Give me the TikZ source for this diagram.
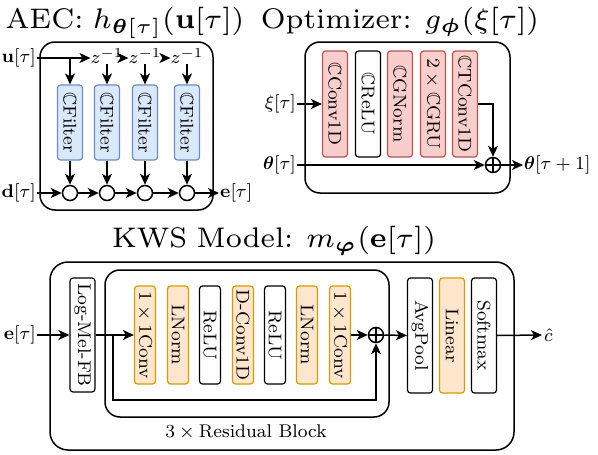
\RequirePackage{fix-cm}
\documentclass[tikz,border=0pt]{standalone}
\usepackage{graphicx}
\usepackage{amsmath,amssymb,bm}
\usetikzlibrary{arrows.meta,calc}
\definecolor{bfill}{HTML}{DAE8FC}\definecolor{bdraw}{HTML}{6C8EBF}
\definecolor{rfill}{HTML}{F8CECC}\definecolor{rdraw}{HTML}{B85450}
\definecolor{ofill}{HTML}{FFE6CC}\definecolor{odraw}{HTML}{D79B00}
\newcommand{\bt}[1]{\scalebox{2.3}{\fontsize{8}{9.6}\selectfont #1}}
\newcommand{\ttlx}[1]{\scalebox{4.05}{\fontsize{7}{8.4}\selectfont\spaceskip=2.3pt #1}}
\tikzset{
  txt/.style={inner sep=1pt},
  ttl/.style={inner sep=0pt, anchor=base},
  blk/.style={txt, draw, fill=white, rounded corners=3pt, rotate=-90, inner sep=1pt, line width=1.2pt},
  blu/.style={blk, draw=bdraw, fill=bfill},
  red/.style={blk, draw=rdraw, fill=rfill},
  org/.style={blk, draw=odraw, fill=ofill},
  bigbox/.style={draw, line width=1.5pt, rounded corners=15pt},
  ar/.style={-{Stealth[length=11pt,width=10pt,inset=3pt]}, line width=1.5pt},
  circ/.style={draw, circle, minimum size=15pt, inner sep=0pt, line width=1.5pt},
  oplus/.style={circ, path picture={\draw[line width=1.5pt] (path picture bounding box.north) -- (path picture bounding box.south) (path picture bounding box.west) -- (path picture bounding box.east);}}
}
\begin{document}
\begin{tikzpicture}[x=1pt,y=-1pt]
\useasboundingbox (0,0) rectangle (598,455);
% ---------------- AEC
\node[ttl] (taec) at (125,28) {\ttlx{AEC: $h_{\bm{\theta}[\tau]}(\mathbf{u}[\tau])$}};
\draw[bigbox] (40,42) rectangle (213,210);
\node[txt, anchor=east] (u) at (37,58) {\bt{$\mathbf{u}[\tau]$}};
\node[txt, anchor=east] (d) at (37,193) {\bt{$\mathbf{d}[\tau]$}};
\foreach \i/\x in {1/70,2/107,3/145,4/187}{
  \node[blu, minimum width=75pt, minimum height=25pt] (f\i) at (\x,122.5) {\bt{$\mathbb{C}$Filter}};
  \node[circ] (c\i) at (\x,193) {};
  \draw[ar] (f\i.east) -- (c\i.north);
}
\foreach \i/\x in {2/107,3/145,4/187}{
  \node[txt, inner sep=0pt] (z\i) at (\x,56) {\bt{$z^{-1}$}};
  \draw[ar] (z\i.south) -- (f\i.west);
}
\coordinate (b1) at (u.east -| f1.west);
\draw[ar] (u.east) -- (z2.west |- u.east);
\draw[ar] (z2.east |- u.east) -- (z3.west |- u.east);
\draw[ar] (z3.east |- u.east) -- (z4.west |- u.east);
\draw[ar] (b1) -- (f1.west);
\node[txt, anchor=west] (e) at (219,193) {\bt{$\mathbf{e}[\tau]$}};
\draw[ar] (d.east) -- (c1.west);
\draw[ar] (c1.east) -- (c2.west);
\draw[ar] (c2.east) -- (c3.west);
\draw[ar] (c3.east) -- (c4.west);
\draw[ar] (c4.east) -- (e.west);
% ---------------- Optimizer
\node[ttl] (topt) at (400,28) {\ttlx{Optimizer: $g_{\bm{\phi}}(\xi[\tau])$}};
\draw[bigbox] (305,42) rectangle (510,193);
\node[red, minimum width=106pt, minimum height=25pt] (o1) at (335,104) {\bt{$\mathbb{C}$Conv1D}};
\node[blk, minimum width=106pt, minimum height=25pt] (o2) at (368,104) {\bt{$\mathbb{C}$ReLU}};
\node[red, minimum width=106pt, minimum height=25pt] (o3) at (400,104) {\bt{$\mathbb{C}$GNorm}};
\node[red, minimum width=106pt, minimum height=25pt] (o4) at (433,104) {\bt{$2\times\mathbb{C}$GRU}};
\node[red, minimum width=106pt, minimum height=25pt] (o5) at (465,104) {\bt{$\mathbb{C}$TConv1D}};
\node[txt, anchor=east] (xi) at (297,104) {\bt{$\xi[\tau]$}};
\node[txt, anchor=east] (th) at (297,165) {\bt{$\bm{\theta}[\tau]$}};
\node[oplus] (p1) at (493,165) {};
\node[txt, anchor=west] (thn) at (523,165) {\bt{$\bm{\theta}[\tau+1]$}};
\draw[ar] (xi.east) -- (o1.south);
\draw[ar] (th.east) -- (p1.west);
\draw[ar] (o5.north) -| (p1.north);
\draw[ar] (p1.east) -- (thn.west);
% ---------------- KWS
\node[ttl] (tkws) at (274,247) {\ttlx{KWS Model: $m_{\bm{\varphi}}(\mathbf{e}[\tau])$}};
\draw[bigbox, rounded corners=18pt] (50,262) rectangle (514,450);
\draw[bigbox] (105,270) rectangle (389,417);
\node[txt] (rb) at (246,432) {\bt{$3\times\text{Residual Block}$}};
\node[txt, anchor=east] (ein) at (37,335) {\bt{$\mathbf{e}[\tau]$}};
\node[blk, minimum width=114pt, minimum height=25pt] (lm) at (82.5,335) {\bt{Log-Mel-FB}};
\node[org, minimum width=98pt, minimum height=21pt] (r1) at (145,335) {\bt{$1\times1$Conv}};
\node[org, minimum width=98pt, minimum height=21pt] (r2) at (178,335) {\bt{LNorm}};
\node[blk, minimum width=98pt, minimum height=21pt] (r3) at (210,335) {\bt{ReLU}};
\node[org, minimum width=98pt, minimum height=21pt] (r4) at (243,335) {\bt{D-Conv1D}};
\node[blk, minimum width=98pt, minimum height=21pt] (r5) at (275,335) {\bt{ReLU}};
\node[org, minimum width=98pt, minimum height=21pt] (r6) at (307,335) {\bt{LNorm}};
\node[org, minimum width=98pt, minimum height=21pt] (r7) at (340,335) {\bt{$1\times1$Conv}};
\node[oplus] (p2) at (376,335) {};
\node[blk, minimum width=115pt, minimum height=25pt] (ap) at (420,335.5) {\bt{AvgPool}};
\node[org, minimum width=115pt, minimum height=25pt] (li) at (452,335.5) {\bt{Linear}};
\node[blk, minimum width=115pt, minimum height=25pt] (sm) at (484,335.5) {\bt{Softmax}};
\node[txt, anchor=west] (ch) at (543,335) {\bt{$\hat{c}$}};
\coordinate (br) at (113,335);
\draw[ar] (ein.east) -- (lm.south);
\draw[ar] (lm.north) -- (r1.south);
\draw[ar] (br) -- ++(0,65) -| (p2.south);
\draw[ar] (r7.north) -- (p2.west);
\draw[ar] (p2.east) -- (ap.south);
\draw[ar] (sm.north) -- ($(ch.west)+(-1,0)$);
\end{tikzpicture}
\end{document}
